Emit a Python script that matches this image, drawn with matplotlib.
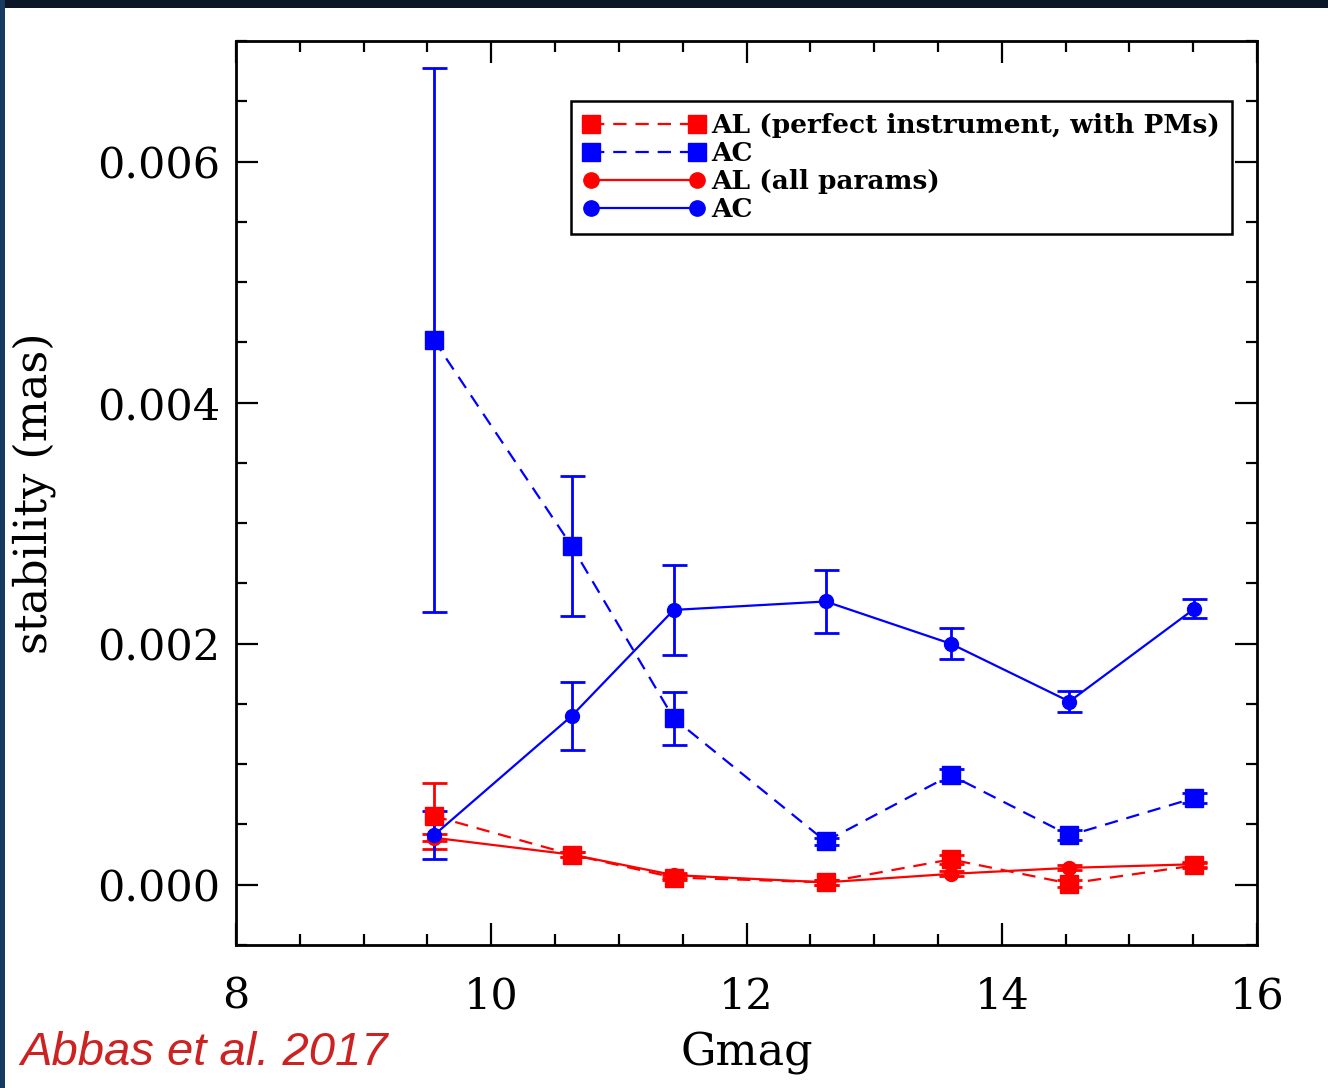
import matplotlib
matplotlib.use("Agg")
import matplotlib.pyplot as plt
import numpy as np
from matplotlib.ticker import MultipleLocator
from matplotlib.patches import Rectangle
from matplotlib.lines import Line2D

# Gmag bins
gmag = [9.55, 10.63, 11.43, 12.62, 13.60, 14.53, 15.51]

# AC (perfect instrument, with PMs) - blue dashed squares
ac_pm = [0.00452, 0.00281, 0.00138, 0.00036, 0.00091, 0.00041, 0.00072]
ac_pm_err = [0.00226, 0.00058, 0.00022, 0.00003, 0.00005, 0.00004, 0.00004]

# AC (all params) - blue solid circles
ac_all = [0.00041, 0.00140, 0.00228, 0.00235, 0.00200, 0.00152, 0.00229]
ac_all_err = [0.00020, 0.00028, 0.00037, 0.00026, 0.00013, 0.00009, 0.00008]

# AL (perfect instrument, with PMs) - red dashed squares
al_pm = [0.00057, 0.00025, 0.00006, 0.00002, 0.00021, 0.00001, 0.00016]
al_pm_err = [0.00027, 0.00002, 0.00002, 0.00002, 0.00004, 0.00003, 0.00002]

# AL (all params) - red solid circles
al_all = [0.00039, 0.00025, 0.00008, 0.00002, 0.00009, 0.00014, 0.00017]
al_all_err = [0.00003, 0.00002, 0.00002, 0.00002, 0.00002, 0.00002, 0.00002]

labels = ["AL (perfect instrument, with PMs)", "AC", "AL (all params)", "AC"]

serif = "DejaVu Serif"
RED = "#ff0000"
BLUE = "#0000ff"
DASH = (0, (6, 4))

fig = plt.figure(figsize=(13.28, 10.88), dpi=100)
fig.patch.set_facecolor("white")

# slide background strips (top and left)
fig.patches.append(Rectangle((0, 1 - 8 / 1088), 1, 8 / 1088, transform=fig.transFigure,
                             facecolor="#0b1626", edgecolor="none", zorder=0))
fig.patches.append(Rectangle((0, 0), 5 / 1328, 1, transform=fig.transFigure,
                             facecolor="#173a60", edgecolor="none", zorder=0))

ax = fig.add_axes([236 / 1328, 1 - 945 / 1088, 1021 / 1328, 904 / 1088])

common = dict(capsize=9, capthick=2, elinewidth=2, linewidth=1.6)
ax.errorbar(gmag, al_pm, yerr=al_pm_err, color=RED, linestyle=DASH,
            marker="s", markersize=13, **common)
ax.errorbar(gmag, ac_pm, yerr=ac_pm_err, color=BLUE, linestyle=DASH,
            marker="s", markersize=13, **common)
ax.errorbar(gmag, al_all, yerr=al_all_err, color=RED, linestyle="-",
            marker="o", markersize=10, **common)
ax.errorbar(gmag, ac_all, yerr=ac_all_err, color=BLUE, linestyle="-",
            marker="o", markersize=10, **common)

ax.set_xlim(8, 16)
ax.set_ylim(-0.0005, 0.007)
ax.xaxis.set_major_locator(MultipleLocator(2))
ax.xaxis.set_minor_locator(MultipleLocator(0.5))
ax.yaxis.set_major_locator(MultipleLocator(0.002))
ax.yaxis.set_minor_locator(MultipleLocator(0.0005))
ax.yaxis.set_major_formatter(plt.FuncFormatter(lambda v, p: f"{v:.3f}"))

ax.tick_params(which="both", direction="in", top=True, right=True, width=1.6)
ax.tick_params(which="major", length=16)
ax.tick_params(which="minor", length=8)
ax.tick_params(axis="x", which="major", pad=22, labelsize=31)
ax.tick_params(axis="y", which="major", pad=11, labelsize=31)
for lab in ax.get_xticklabels() + ax.get_yticklabels():
    lab.set_family(serif)
for sp in ax.spines.values():
    sp.set_linewidth(2)

ax.set_xlabel("Gmag", family=serif, fontsize=32, labelpad=10)
ax.set_ylabel("stability (mas)", family=serif, fontsize=32, labelpad=30)

handles = [
    Line2D([], [], color=RED, linestyle=DASH, lw=1.6, marker="s", markersize=13),
    Line2D([], [], color=BLUE, linestyle=DASH, lw=1.6, marker="s", markersize=13),
    Line2D([], [], color=RED, linestyle="-", lw=1.6, marker="o", markersize=11),
    Line2D([], [], color=BLUE, linestyle="-", lw=1.6, marker="o", markersize=11),
]
leg = ax.legend(handles, labels, loc="upper right", bbox_to_anchor=(0.9755, 0.9336),
                prop={"family": serif, "weight": "bold", "size": 19},
                frameon=True, fancybox=False, edgecolor="black", framealpha=1,
                handlelength=4.6, numpoints=2, borderpad=0.45, labelspacing=0.12,
                handletextpad=0.25, borderaxespad=0)
leg.get_frame().set_linewidth(1.8)

fig.text(20 / 1328, 1 - 1053 / 1088, "Abbas et al. 2017", color="#cc2222", fontsize=34,
         style="italic", family="Liberation Sans", va="center", ha="left")

fig.savefig("out.png", dpi=100)
